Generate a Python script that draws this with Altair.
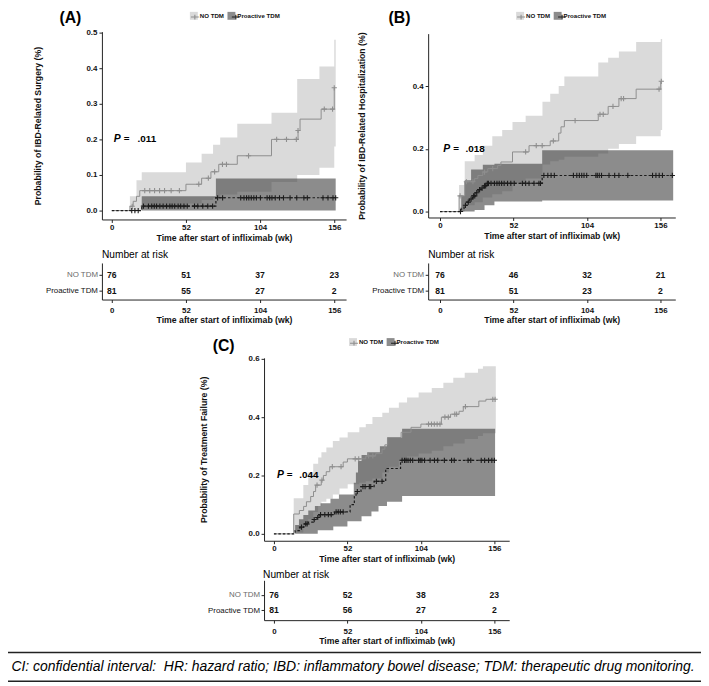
import altair as alt
import pandas as pd

W, H = 701, 678
WEEKS = [0, 52, 104, 156]
GROUPS = ["NO TDM", "Proactive TDM"]
X_TITLE = "Time after start of infliximab (wk)"
FOOTER = ("CI: confidential interval:\u00a0\u00a0HR: hazard ratio; IBD: inflammatory bowel disease; "
          "TDM: therapeutic drug monitoring.")

# ---------------- Panel A: IBD-related surgery ----------------
A_ylab = "Probability of IBD-Related Surgery (%)"
A_yticks = [0, 0.1, 0.2, 0.3, 0.4, 0.5]
A_p = ".011"
A_no_t = [0, 12.7, 15.0, 17.3, 19.6, 52.0, 63.0, 69.5, 75.0, 88.0, 112.0, 130.6, 132.0, 146.8, 156.0]
A_no_v = [0, 0.012, 0.026, 0.040, 0.056, 0.074, 0.091, 0.109, 0.130, 0.154, 0.200, 0.225, 0.257, 0.285, 0.345]
A_pro_t = [0, 21.0, 73.0, 157.0]
A_pro_v = [0, 0.0125, 0.036, 0.036]
A_no_band_t = [12.7, 17.3, 21.0, 52.0, 63.0, 71.0, 76.0, 88.0, 112.0, 130.0, 145.6, 156.0, 157.0]
A_no_band_lo = [0, 0, 0.005, 0.020, 0.030, 0.035, 0.045, 0.053, 0.080, 0.100, 0.120, 0.180, 0.180]
A_no_band_hi = [0.040, 0.085, 0.108, 0.135, 0.160, 0.185, 0.205, 0.244, 0.275, 0.370, 0.405, 0.480, 0.480]
A_pro_band_t = [21.0, 73.0, 157.0]
A_pro_band_lo = [0, 0, 0]
A_pro_band_hi = [0.040, 0.090, 0.090]
A_no_cens = {0.012: [14.3], 0.056: [23.1, 26.6, 30.0, 33.5, 37.0, 41.6, 47.4], 0.074: [61.0],
             0.091: [67.7], 0.109: [72.1], 0.130: [77.6, 80.4], 0.154: [95.9],
             0.200: [115.6, 122.5, 129.4], 0.225: [130.6], 0.285: [149.0, 154.8], 0.345: [156.0]}
A_pro_cens = {0: [14.0, 16.2, 18.5],
              0.0125: [22.2, 25.7, 28.0, 29.8, 31.4, 33.7, 36.0, 38.4, 40.7, 42.3, 44.1, 46.5, 48.3,
                       50.6, 52.9, 58.0, 60.3, 63.8, 67.3, 70.7],
              0.036: [74.2, 77.7, 90.4, 92.7, 94.5, 96.1, 97.8, 99.6, 101.4, 104.2, 108.9, 110.7, 112.3,
                      114.6, 117.6, 120.4, 125.0, 129.7, 134.7, 137.1, 148.1, 151.6, 155.1, 157.0]}
A_risk_no = [76, 51, 37, 23]
A_risk_pro = [81, 55, 27, 2]

# ---------------- Panel B: IBD-related hospitalization ----------------
B_ylab = "Probability of IBD-Related Hospitalization (%)"
B_yticks = [0, 0.2, 0.4]
B_p = ".018"
B_no_t = [0, 13.5, 17.5, 24.5, 26.8, 30.3, 33.8, 40.8, 43.1, 51.3, 63.0, 78.0, 84.0, 85.6, 88.0,
          112.0, 119.0, 126.6, 138.8, 156.2]
B_no_v = [0, 0.050, 0.095, 0.105, 0.115, 0.126, 0.137, 0.147, 0.158, 0.190, 0.210, 0.225, 0.250,
          0.270, 0.290, 0.310, 0.335, 0.360, 0.390, 0.415]
B_pro_t = [0, 15.0, 17.0, 19.0, 21.0, 23.0, 25.0, 27.0, 29.0, 31.0, 33.0, 72.3, 165.0]
B_pro_v = [0, 0.010, 0.020, 0.030, 0.040, 0.050, 0.060, 0.070, 0.075, 0.082, 0.090, 0.115, 0.115]
B_no_band_t = [13.5, 17.5, 24.5, 30.3, 37.0, 44.0, 51.3, 60.6, 72.5, 78.0, 84.0, 88.0, 112.0, 119.0,
               126.6, 138.8, 156.2, 157.2]
B_no_band_lo = [0, 0.020, 0.030, 0.045, 0.055, 0.065, 0.090, 0.105, 0.150, 0.160, 0.165, 0.175, 0.185,
                0.200, 0.215, 0.240, 0.260, 0.260]
B_no_band_hi = [0.085, 0.160, 0.180, 0.210, 0.240, 0.260, 0.285, 0.305, 0.350, 0.375, 0.400, 0.430,
                0.475, 0.490, 0.510, 0.540, 0.550, 0.550]
B_pro_band_t = [15.0, 17.5, 22.0, 24.5, 30.3, 31.5, 38.5, 72.3, 165.0]
B_pro_band_lo = [0, 0, 0, 0.005, 0.005, 0.020, 0.032, 0.035, 0.035]
B_pro_band_hi = [0.050, 0.100, 0.134, 0.134, 0.149, 0.149, 0.152, 0.195, 0.195]
B_no_cens = {0.050: [14.2], 0.095: [18.7, 23.3], 0.126: [31.5], 0.137: [37.3], 0.190: [60.6],
             0.210: [68.1, 72.3], 0.225: [80.2], 0.290: [95.6], 0.310: [113.2, 115.5], 0.335: [122.4],
             0.360: [128.2, 129.9], 0.390: [155.0], 0.415: [156.6]}
B_pro_cens = {0: [14.5], 0.020: [18.0], 0.030: [20.0], 0.040: [22.0], 0.050: [23.8, 24.6],
              0.060: [26.0], 0.070: [28.0], 0.075: [29.8], 0.082: [31.5, 32.3],
              0.090: [33.5, 34.3, 36.1, 38.5, 40.3, 41.9, 43.6, 45.4, 47.8, 50.1, 52.5, 58.3, 60.6,
                      63.0, 66.5, 70.0, 71.1],
              0.115: [73.5, 76.3, 78.6, 80.9, 94.4, 96.8, 98.6, 100.3, 101.9, 103.8, 110.3, 111.3,
                      112.7, 114.3, 119.6, 123.6, 126.6, 132.9, 150.4, 152.8, 155.1, 157.4, 164.4]}
B_risk_no = [76, 46, 32, 21]
B_risk_pro = [81, 51, 23, 2]

# ---------------- Panel C: treatment failure ----------------
C_ylab = "Probability of Treatment Failure (%)"
C_yticks = [0, 0.2, 0.4, 0.6]
C_p = ".044"
C_no_t = [0, 14.0, 18.0, 21.0, 23.0, 26.0, 28.0, 29.5, 33.5, 35.0, 37.0, 39.5, 49.0, 52.0, 65.0,
          72.0, 76.5, 78.5, 80.5, 90.0, 97.0, 104.0, 118.5, 125.0, 131.0, 134.0, 145.0, 150.0, 156.5]
C_no_v = [0, 0.068, 0.080, 0.094, 0.110, 0.128, 0.145, 0.167, 0.184, 0.200, 0.213, 0.230, 0.246,
          0.257, 0.267, 0.275, 0.290, 0.305, 0.330, 0.348, 0.365, 0.376, 0.400, 0.410, 0.420, 0.436,
          0.455, 0.461, 0.461]
C_pro_t = [0, 15.0, 18.4, 21.2, 24.3, 27.8, 30.5, 32.0, 42.9, 53.9, 56.9, 58.1, 61.6, 70.9, 79.1,
           89.6, 156.3]
C_pro_v = [0, 0.011, 0.023, 0.034, 0.040, 0.049, 0.056, 0.066, 0.075, 0.100, 0.128, 0.145, 0.162,
           0.180, 0.224, 0.252, 0.252]
C_no_band_t = [14.0, 20.8, 24.3, 27.8, 31.3, 33.6, 37.1, 41.7, 46.4, 52.2, 60.4, 65.0, 69.7, 76.7,
               81.4, 88.4, 94.2, 102.4, 111.7, 119.9, 126.9, 135.0, 144.4, 147.9, 156.0, 157.0]
C_no_band_lo = [0.005, 0.030, 0.050, 0.075, 0.095, 0.110, 0.120, 0.135, 0.155, 0.170, 0.175, 0.180,
                0.190, 0.210, 0.230, 0.250, 0.265, 0.275, 0.285, 0.300, 0.310, 0.325, 0.335, 0.345,
                0.345, 0.345]
C_no_band_hi = [0.122, 0.167, 0.210, 0.240, 0.262, 0.280, 0.296, 0.318, 0.330, 0.348, 0.365, 0.376,
                0.400, 0.415, 0.432, 0.450, 0.467, 0.484, 0.500, 0.518, 0.535, 0.552, 0.566, 0.574,
                0.574, 0.574]
C_pro_band_t = [15.0, 17.7, 20.8, 24.3, 29.0, 31.0, 33.0, 40.0, 42.0, 46.0, 52.0, 56.5, 58.0, 59.5,
                62.0, 66.0, 69.0, 74.0, 75.0, 80.0, 90.7, 156.5]
C_pro_band_lo = [0, 0, 0, 0, 0, 0.012, 0.012, 0.012, 0.025, 0.025, 0.043, 0.043, 0.043, 0.043, 0.060,
                 0.060, 0.077, 0.095, 0.095, 0.110, 0.130, 0.130]
C_pro_band_hi = [0.030, 0.050, 0.065, 0.080, 0.095, 0.095, 0.105, 0.120, 0.120, 0.135, 0.135, 0.175,
                 0.210, 0.250, 0.270, 0.280, 0.280, 0.280, 0.300, 0.330, 0.360, 0.360]
C_no_cens = {0.167: [30.5], 0.184: [34.0], 0.230: [41.3, 47.5], 0.257: [57.5, 60.0],
             0.267: [67.0, 70.0], 0.376: [109.4, 111.5, 113.5, 115.5, 117.5], 0.400: [121.0, 123.4],
             0.410: [128.0, 129.3], 0.436: [135.5], 0.461: [154.9, 156.5]}
C_pro_cens = {0.023: [19.5], 0.034: [22.5, 23.5], 0.049: [28.5], 0.056: [31.0],
              0.066: [33.0, 36.0, 38.5, 40.5], 0.075: [44.0, 45.5, 47.0, 49.0], 0.145: [59.0],
              0.162: [63.0, 64.5, 67.5, 68.5], 0.180: [72.5, 76.5],
              0.252: [90.7, 92.4, 93.5, 94.9, 96.5, 98.2, 102.4, 103.5, 104.7, 106.6, 110.5, 113.6,
                      115.9, 120.6, 125.7, 127.6, 137.4, 139.3, 146.7, 149.1, 151.9, 154.2, 156.0]}
C_risk_no = [76, 52, 38, 23]
C_risk_pro = [81, 56, 27, 2]

# ---------------- styles / layout (pixel geometry, chart coordinates) ----------------
FONT = "Liberation Sans"
BAND_COLORS = ["#c2c2c2", "#404040"]
BAND_OPACITY = 0.6
NO_COLOR = "#8e8e8e"
PRO_COLOR = "#1c1c1c"
CROSS = "M-1,0L1,0M0,-1L0,1"
LEG_CROSS = "M-1,0L1,0M0,-0.6L0,0.6"
ZW = "\u200b"  # zero-width suffix: keeps the marker legend separate from the band legend
MARK_GROUPS = [g + ZW for g in GROUPS]

GEO = {
    "A": dict(xdom=[-6.93, 164.3], xrng=[95, 342], ydom=[-0.025, 0.5028], yrng=[210, 20], ytp=44,
              rydom=[-0.5625, 1.75], ryrng=[291, 254], legx=184, legy=0, ptx=[1.4, 8.3, 18.0]),
    "B": dict(xdom=[-8.39, 166.5], xrng=[425, 675], ydom=[-0.0189, 0.567], yrng=[208, 22], ytp=46,
              rydom=[-0.5625, 1.75], ryrng=[291, 254], legx=514, legy=0, ptx=[2.3, 9.3, 18.0]),
    "C": dict(xdom=[-7.0, 166.5], xrng=[259, 507], ydom=[-0.0237, 0.603], yrng=[535, 350], ytp=40,
              rydom=[-0.64, 1.94], ryrng=[615.3, 575], legx=345, legy=330, ptx=[2.1, 9.1, 18.0]),
}

AX_COMMON = dict(grid=False, tickSize=3, tickColor="#222", domainColor="#222", domainWidth=1,
                 labelFontSize=8, labelFontWeight="bold", labelColor="#111", labelFlush=False,
                 titleFontSize=8.8, titleFontWeight="bold", titleColor="#111", labelOverlap=False)

LEG_FONT = 6.2
LEG_OFFSET = 2
LEG_COLPAD = 3
# width of the "NO TDM" label (Liberation Sans Bold advance widths, per 1000 em)
NO_LABEL_W = (722 + 778 + 278 + 611 + 722 + 833) / 1000 * LEG_FONT
LEG_COMMON = dict(orient="none", direction="horizontal", title=None, symbolSize=64,
                  labelFontSize=LEG_FONT, labelFontWeight="bold", labelOffset=LEG_OFFSET, padding=0)


def band_frame(t1, lo1, hi1, t2, lo2, hi2):
    a = pd.DataFrame({"t": t1, "lo": lo1, "hi": hi1, "grp": GROUPS[0]})
    b = pd.DataFrame({"t": t2, "lo": lo2, "hi": hi2, "grp": GROUPS[1]})
    return pd.concat([a, b], ignore_index=True)


def cens_frame(d_no, d_pro):
    rows = [(t, v, MARK_GROUPS[0]) for v, ts in d_no.items() for t in ts]
    rows += [(t, v, MARK_GROUPS[1]) for v, ts in d_pro.items() for t in ts]
    return pd.DataFrame(rows, columns=["t", "v", "mgrp"])


def km_panel(d, g):
    xs = alt.Scale(domain=g["xdom"], range=g["xrng"], nice=False, zero=False)
    ys = alt.Scale(domain=g["ydom"], range=g["yrng"], nice=False, zero=False)
    xax = alt.Axis(orient="bottom", offset=g["yrng"][0] - H, values=WEEKS, title=X_TITLE,
                   labelPadding=1, titlePadding=2, **AX_COMMON)
    yax = alt.Axis(orient="left", offset=-g["xrng"][0], values=d["yticks"], format=".1f",
                   title=d["ylab"], labelPadding=2, titlePadding=g["ytp"], **AX_COMMON)
    X = alt.X("t:Q", scale=xs, axis=xax)

    def Y(f):
        return alt.Y(f + ":Q", scale=ys, axis=yax, stack=None)

    bands = alt.Chart(d["bands"]).mark_area(interpolate="step-after", opacity=BAND_OPACITY).encode(
        x=X, y=Y("lo"), y2=alt.Y2("hi:Q"),
        fill=alt.Fill("grp:N", scale=alt.Scale(domain=GROUPS, range=BAND_COLORS),
                      legend=alt.Legend(legendX=g["legx"], legendY=g["legy"], symbolType="square",
                                        symbolStrokeWidth=0, labelColor="#111",
                                        columnPadding=LEG_COLPAD, **LEG_COMMON)))
    no_line = alt.Chart(d["curve_no"]).mark_line(interpolate="step-after", color=NO_COLOR,
                                                  strokeWidth=1).encode(x=X, y=Y("v"))
    pro_line = alt.Chart(d["curve_pro"]).mark_line(interpolate="step-after", color=PRO_COLOR,
                                                    strokeWidth=1.2, strokeDash=[2.5, 2]).encode(x=X, y=Y("v"))
    pts = alt.Chart(d["cens"]).mark_point(shape=CROSS, filled=False, size=28, strokeWidth=1.1,
                                          opacity=1).encode(
        x=X, y=Y("v"),
        stroke=alt.Stroke("mgrp:N", scale=alt.Scale(domain=MARK_GROUPS, range=[NO_COLOR, PRO_COLOR]),
                          legend=alt.Legend(legendX=g["legx"], legendY=g["legy"], symbolType=LEG_CROSS,
                                            symbolStrokeWidth=1.1, labelExpr="''",
                                            columnPadding=LEG_COLPAD + NO_LABEL_W, **LEG_COMMON)))
    pdf = pd.DataFrame({"t": g["ptx"], "v": [0.2, 0.2, 0.2], "s": ["P", "=", d["p"]]})
    p_it = alt.Chart(pdf.iloc[:1]).mark_text(align="left", baseline="middle", fontSize=10.5,
                                              fontWeight="bold", fontStyle="italic", color="#000").encode(
        x=X, y=Y("v"), text="s:N")
    p_rest = alt.Chart(pdf.iloc[1:]).mark_text(align="left", baseline="middle", fontSize=10,
                                                fontWeight="bold", color="#000").encode(
        x=X, y=Y("v"), text="s:N")
    return alt.layer(bands, no_line, pro_line, pts, p_it, p_rest)


def risk_panel(d, g):
    xs = alt.Scale(domain=g["xdom"], range=g["xrng"], nice=False, zero=False)
    ys = alt.Scale(domain=g["rydom"], range=g["ryrng"], nice=False, zero=False)
    xax = alt.Axis(orient="bottom", offset=g["ryrng"][0] - H, values=WEEKS, title=X_TITLE,
                   labelPadding=4.5, titlePadding=1, **AX_COMMON)
    ycommon = {k: v for k, v in AX_COMMON.items() if k not in ("labelFontSize", "labelFontWeight", "labelColor")}
    yax = alt.Axis(orient="left", offset=-g["xrng"][0], values=[0, 1], title=None,
                   labelExpr="datum.value == 1 ? 'NO TDM' : 'Proactive TDM'",
                   labelColor={"condition": {"test": "datum.value == 1", "value": "#6a6a6a"},
                               "value": "#111111"},
                   labelFontSize=8, labelFontWeight="normal", labelPadding=1.5, **ycommon)
    df = pd.DataFrame({"t": WEEKS * 2, "row": [1] * 4 + [0] * 4, "n": d["risk_no"] + d["risk_pro"]})
    return alt.Chart(df).mark_text(fontSize=8.7, fontWeight="bold", color="#111",
                                   baseline="middle", align="center").encode(
        x=alt.X("t:Q", scale=xs, axis=xax), y=alt.Y("row:Q", scale=ys, axis=yax), text="n:Q")


def label(text, x, y, size, weight="normal", style="normal", align="left", baseline="alphabetic"):
    return alt.Chart(pd.DataFrame({"k": [0]})).mark_text(
        text=text, fontSize=size, fontWeight=weight, fontStyle=style, align=align,
        baseline=baseline, color="#000").encode(x=alt.value(x), y=alt.value(y))


def hline(y, w):
    return alt.Chart(pd.DataFrame({"k": [0]})).mark_rule(color="#222", strokeWidth=w).encode(
        x=alt.value(0), x2=alt.value(W), y=alt.value(y))


panels = {
    "A": dict(ylab=A_ylab, yticks=A_yticks, p=A_p,
              bands=band_frame(A_no_band_t, A_no_band_lo, A_no_band_hi, A_pro_band_t, A_pro_band_lo, A_pro_band_hi),
              curve_no=pd.DataFrame({"t": A_no_t, "v": A_no_v}),
              curve_pro=pd.DataFrame({"t": A_pro_t, "v": A_pro_v}),
              cens=cens_frame(A_no_cens, A_pro_cens),
              risk_no=A_risk_no, risk_pro=A_risk_pro),
    "B": dict(ylab=B_ylab, yticks=B_yticks, p=B_p,
              bands=band_frame(B_no_band_t, B_no_band_lo, B_no_band_hi, B_pro_band_t, B_pro_band_lo, B_pro_band_hi),
              curve_no=pd.DataFrame({"t": B_no_t, "v": B_no_v}),
              curve_pro=pd.DataFrame({"t": B_pro_t, "v": B_pro_v}),
              cens=cens_frame(B_no_cens, B_pro_cens),
              risk_no=B_risk_no, risk_pro=B_risk_pro),
    "C": dict(ylab=C_ylab, yticks=C_yticks, p=C_p,
              bands=band_frame(C_no_band_t, C_no_band_lo, C_no_band_hi, C_pro_band_t, C_pro_band_lo, C_pro_band_hi),
              curve_no=pd.DataFrame({"t": C_no_t, "v": C_no_v}),
              curve_pro=pd.DataFrame({"t": C_pro_t, "v": C_pro_v}),
              cens=cens_frame(C_no_cens, C_pro_cens),
              risk_no=C_risk_no, risk_pro=C_risk_pro),
}

layers = []
for key in ["A", "B", "C"]:
    layers.append(km_panel(panels[key], GEO[key]))
    layers.append(risk_panel(panels[key], GEO[key]))

annotations = [
    label("(A)", 52, 11, 16, weight="bold"),
    label("(B)", 385, 11, 16, weight="bold"),
    label("(C)", 207, 343, 16, weight="bold"),
    label("Number at risk", 95, 246, 10.3, baseline="middle"),
    label("Number at risk", 425, 246, 10.3, baseline="middle"),
    label("Number at risk", 258, 570, 10.3, baseline="middle"),
    hline(648, 1.5),
    label(FOOTER, 349, 663, 14.1, style="italic", align="center", baseline="middle"),
    hline(677, 1.5),
]

chart = alt.layer(*layers, *annotations).resolve_scale(
    x="independent", y="independent", fill="independent", stroke="independent"
).properties(
    width=W, height=H, padding=0, autosize=alt.AutoSizeParams(type="none")
).configure(font=FONT).configure_view(stroke=None)

chart.save("out.html", embed_options={"renderer": "svg", "actions": False})
